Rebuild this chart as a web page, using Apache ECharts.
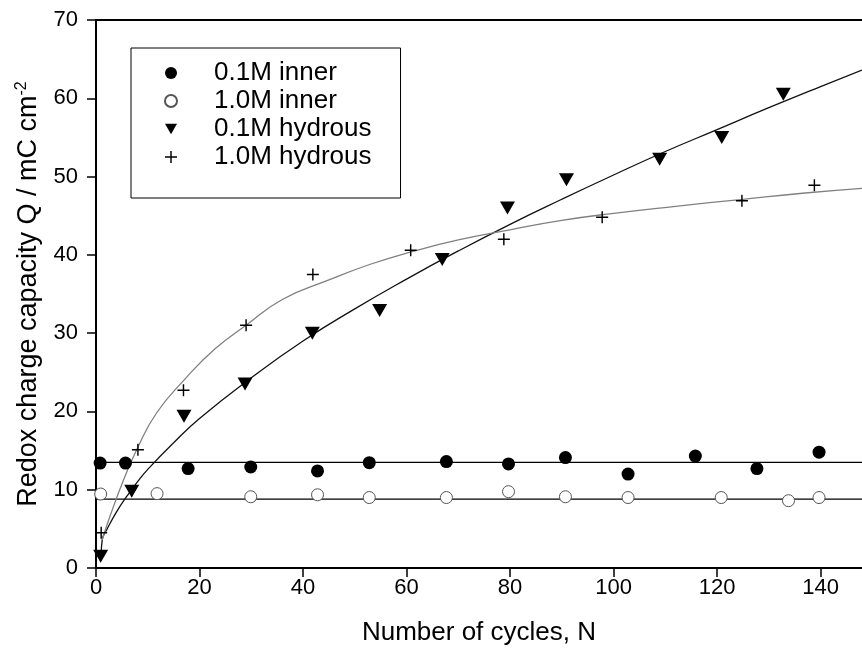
<!DOCTYPE html>
<html>
	<head>
		<meta charset="utf-8">
		<title>Redox charge capacity</title>
		<style>
			html, body { margin: 0; padding: 0; background: #fff; }
		</style>
	</head>
	<body>
		<div id="container" style="width: 862px;height:651px;"></div>
	</body>
	<script src="https://cdn.jsdelivr.net/npm/echarts@6/dist/echarts.min.js"></script>
	<script type="text/javascript">
		'use strict'
		// 轴刻度
		var xTicks = [0, 20, 40, 60, 80, 100, 120, 140];
		var yTicks = [0, 10, 20, 30, 40, 50, 60, 70];
		var seriesNames = ['0.1M inner', '1.0M inner', '0.1M hydrous', '1.0M hydrous'];

		// 测量点 [N, Q]
		var inner01 = [
			[0.8, 13.4], [5.7, 13.4], [17.8, 12.7], [29.9, 12.9], [42.8, 12.4],
			[52.8, 13.45], [67.7, 13.6], [79.7, 13.3], [90.7, 14.1], [102.8, 12.0],
			[115.8, 14.3], [127.7, 12.7], [139.7, 14.8]
		];
		var inner10 = [
			[0.9, 9.45], [11.8, 9.5], [29.9, 9.1], [42.8, 9.35], [52.8, 9.0],
			[67.7, 9.0], [79.7, 9.75], [90.7, 9.1], [102.8, 9.0], [120.8, 9.0],
			[133.8, 8.6], [139.7, 9.0]
		];
		var hydrous01 = [
			[0.9, 1.5], [6.9, 9.8], [17.0, 19.4], [28.8, 23.5], [41.8, 30.0],
			[54.8, 32.9], [66.9, 39.4], [79.5, 46.0], [90.9, 49.6], [108.9, 52.2],
			[120.9, 55.0], [132.8, 60.5]
		];
		var hydrous10 = [
			[1.0, 4.5], [8.1, 15.1], [16.9, 22.7], [29.0, 31.0], [41.9, 37.5],
			[60.8, 40.6], [78.8, 42.0], [97.8, 44.8], [124.8, 46.9], [138.8, 48.9]
		];

		// 拟合曲线
		var fit01 = [
			[1.0, 1.6], [1.2, 3.6], [2, 4.8], [4, 7.2], [6, 9.2], [8, 11.0], [10, 12.6], [15, 16.0],
			[20, 19.1], [30, 24.3], [40, 29.0], [50, 33.1], [60, 36.9], [70, 40.5],
			[80, 43.9], [90, 47.1], [100, 50.2], [110, 53.2], [120, 56.0], [130, 58.8],
			[140, 61.5], [148, 63.6]
		];
		var fit10 = [
			[1.2, 3.6], [2.7, 6.6], [5.3, 11.2], [8, 15.3], [11.7, 19.8], [17, 24.0],
			[23, 28.0], [29, 31.0], [36, 34.3], [45, 36.8], [53, 38.8], [61, 40.4],
			[70, 41.9], [80, 43.2], [90, 44.4], [100, 45.3], [112, 46.2], [125, 47.1],
			[137, 47.9], [148, 48.5]
		];
		var level01 = [[0, 13.5], [148, 13.5]];
		var level10 = [[0, 8.8], [148, 8.8]];

		var font = 'Liberation Sans, Arial, sans-serif';
		var plusPath = 'path://M4.4,0H5.6V4.4H10V5.6H5.6V10H4.4V5.6H0V4.4H4.4Z';
		var downTriangle = 'path://M0,0L10,0L5,8.6Z';

		var myCharts = echarts.init(document.getElementById('container'));
		var option = {
			animation: false,
			backgroundColor: '#fff',
			grid: {
				left: 96,
				right: 0,
				top: 20,
				bottom: 83
			},
			legend: {
				data: seriesNames,
				orient: 'vertical',
				left: 131,
				top: 48,
				padding: [12, 29, 28, 33],
				itemGap: 2,
				itemWidth: 12,
				itemHeight: 12,
				borderColor: '#000',
				borderWidth: 1,
				backgroundColor: '#fff',
				selectedMode: false,
				textStyle: {
					fontFamily: font,
					fontSize: 26,
					color: '#000',
					padding: [0, 0, 0, 32]
				}
			},
			xAxis: [{
				type: 'value',
				min: 0,
				max: 148,
				interval: 20,
				name: 'Number of cycles, N',
				nameLocation: 'middle',
				nameGap: 52,
				nameTextStyle: {
					fontFamily: font,
					fontSize: 26,
					color: '#000'
				},
				axisLine: { lineStyle: { color: '#000', width: 2 } },
				axisTick: {
					show: true,
					inside: false,
					length: 9,
					customValues: xTicks,
					lineStyle: { color: '#000', width: 1.5 }
				},
				axisLabel: {
					margin: 9,
					fontFamily: font,
					fontSize: 22,
					color: '#000',
					customValues: xTicks
				},
				splitLine: { show: false }
			}, {
				type: 'value',
				position: 'top',
				min: 0,
				max: 148,
				axisLine: { show: true, lineStyle: { color: '#000', width: 2 } },
				axisTick: { show: false },
				axisLabel: { show: false },
				splitLine: { show: false }
			}],
			yAxis: {
				type: 'value',
				min: 0,
				max: 70,
				interval: 10,
				name: 'Redox charge capacity Q / mC cm{sup|-2}',
				nameLocation: 'middle',
				nameGap: 52,
				nameTextStyle: {
					fontFamily: font,
					fontSize: 27,
					color: '#000',
					rich: {
						sup: {
							fontFamily: font,
							fontSize: 16,
							color: '#000',
							padding: [0, 0, 14, 0]
						}
					}
				},
				axisLine: { show: true, lineStyle: { color: '#000', width: 2 } },
				axisTick: {
					show: true,
					inside: false,
					length: 9,
					customValues: yTicks,
					lineStyle: { color: '#000', width: 1.5 }
				},
				axisLabel: {
					margin: 18,
					fontFamily: font,
					fontSize: 22,
					color: '#000',
					customValues: yTicks
				},
				splitLine: { show: false }
			},
			series: [
				{
					name: 'level 0.1M',
					type: 'line',
					data: level01,
					showSymbol: false,
					lineStyle: { color: '#000', width: 1.2 },
					z: 1
				},
				{
					name: 'level 1.0M',
					type: 'line',
					data: level10,
					showSymbol: false,
					lineStyle: { color: '#000', width: 1.2 },
					z: 1
				},
				{
					name: 'fit 0.1M hydrous',
					type: 'line',
					data: fit01,
					smooth: true,
					showSymbol: false,
					lineStyle: { color: '#111', width: 1.3 },
					z: 1
				},
				{
					name: 'fit 1.0M hydrous',
					type: 'line',
					data: fit10,
					smooth: true,
					showSymbol: false,
					lineStyle: { color: '#808080', width: 1.3 },
					z: 1
				},
				{
					name: '0.1M inner',
					type: 'scatter',
					data: inner01,
					symbol: 'circle',
					symbolSize: 13,
					itemStyle: { color: '#000', opacity: 1 },
					z: 3
				},
				{
					name: '1.0M inner',
					type: 'scatter',
					data: inner10,
					symbol: 'circle',
					symbolSize: 12,
					itemStyle: { color: '#fff', borderColor: '#555', borderWidth: 1, opacity: 1 },
					z: 3
				},
				{
					name: '0.1M hydrous',
					type: 'scatter',
					data: hydrous01,
					symbol: downTriangle,
					symbolSize: [15, 13],
					itemStyle: { color: '#000', opacity: 1 },
					z: 3
				},
				{
					name: '1.0M hydrous',
					type: 'scatter',
					data: hydrous10,
					symbol: plusPath,
					symbolSize: 12,
					itemStyle: { color: '#000', opacity: 1 },
					z: 3
				}
			]
		};
		myCharts.setOption(option);
	</script>
</html>
